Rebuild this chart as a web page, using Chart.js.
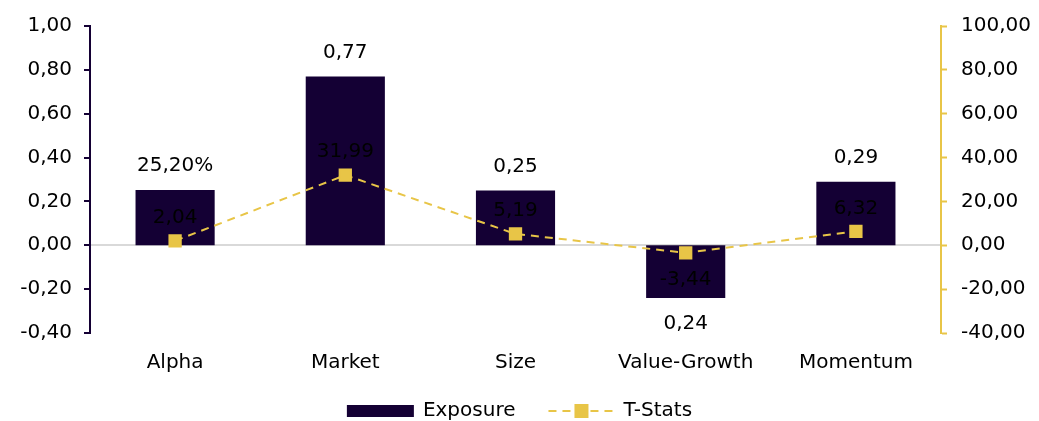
<!DOCTYPE html>
<html>
<head>
<meta charset="utf-8">
<script src="https://cdn.jsdelivr.net/npm/chart.js@4"></script>
<style>
  html, body { margin: 0; padding: 0; background: #ffffff; }
  #wrap { width: 1039px; height: 421px; }
</style>
</head>
<body>
<div id="wrap"><canvas id="c" width="1039" height="421"></canvas></div>
<script>
const categories = ['Alpha', 'Market', 'Size', 'Value-Growth', 'Momentum'];
const exposure = [0.252, 0.77, 0.25, -0.24, 0.29];
const exposureLabels = ['25,20%', '0,77', '0,25', '0,24', '0,29'];
const tStats = [2.04, 31.99, 5.19, -3.44, 6.32];
const tStatLabels = ['2,04', '31,99', '5,19', '-3,44', '6,32'];

const NAVY = '#140034';
const GOLD = '#E8C547';
const FONT = 'Verdana, "DejaVu Sans", sans-serif';
const FS = 20;

const fmt = (v) => {
  let r = Math.round(v * 100) / 100;
  if (Math.abs(r) < 1e-9) r = 0;
  return r.toFixed(2).replace('.', ',');
};

const labelPlugin = {
  id: 'valueLabels',
  afterDatasetsDraw(chart) {
    const ctx = chart.ctx;
    ctx.save();
    ctx.font = FS + 'px ' + FONT;
    ctx.fillStyle = '#000000';
    ctx.textAlign = 'center';
    ctx.textBaseline = 'middle';
    const barMeta = chart.getDatasetMeta(0);
    barMeta.data.forEach((el, i) => {
      const v = exposure[i];
      const y = v >= 0 ? el.y - 24 : el.y + 26;
      ctx.fillText(exposureLabels[i], el.x, y);
    });
    const lineMeta = chart.getDatasetMeta(1);
    lineMeta.data.forEach((el, i) => {
      const y = tStats[i] >= 0 ? el.y - 23 : el.y + 27;
      ctx.fillText(tStatLabels[i], el.x, y);
    });
    ctx.restore();
  }
};

const legendPlugin = {
  id: 'customLegend',
  afterDraw(chart) {
    const ctx = chart.ctx;
    ctx.save();
    ctx.font = FS + 'px ' + FONT;
    const t1 = 'Exposure', t2 = 'T-Stats';
    const w1 = ctx.measureText(t1).width, w2 = ctx.measureText(t2).width;
    const boxW = 67, gap = 9, between = 33, lineW = 66;
    const total = boxW + gap + w1 + between + lineW + gap + w2;
    let x = (chart.width - total) / 2;
    const cy = 411;
    ctx.fillStyle = NAVY;
    ctx.fillRect(x, cy - 6, boxW, 12);
    x += boxW + gap;
    ctx.fillStyle = '#000000';
    ctx.textBaseline = 'middle';
    ctx.textAlign = 'left';
    ctx.fillText(t1, x, cy);
    x += w1 + between;
    ctx.strokeStyle = GOLD;
    ctx.lineWidth = 2;
    ctx.setLineDash([8, 6]);
    ctx.beginPath();
    ctx.moveTo(x, cy);
    ctx.lineTo(x + lineW, cy);
    ctx.stroke();
    ctx.setLineDash([]);
    ctx.fillStyle = GOLD;
    ctx.fillRect(x + lineW / 2 - 7, cy - 7, 14, 14);
    x += lineW + gap;
    ctx.fillStyle = '#000000';
    ctx.fillText(t2, x, cy);
    ctx.restore();
  }
};

new Chart(document.getElementById('c'), {
  data: {
    labels: categories,
    datasets: [
      {
        type: 'bar',
        label: 'Exposure',
        data: exposure,
        backgroundColor: NAVY,
        borderWidth: 0,
        yAxisID: 'y',
        categoryPercentage: 0.93,
        barPercentage: 0.5,
        order: 2
      },
      {
        type: 'line',
        label: 'T-Stats',
        data: tStats,
        borderColor: GOLD,
        backgroundColor: GOLD,
        borderWidth: 2,
        borderDash: [8, 6],
        pointStyle: 'rect',
        pointRadius: 8,
        pointHoverRadius: 8,
        pointBackgroundColor: GOLD,
        pointBorderColor: GOLD,
        tension: 0,
        fill: false,
        yAxisID: 'y1',
        order: 1
      }
    ]
  },
  options: {
    responsive: false,
    animation: false,
    devicePixelRatio: 1,
    layout: { padding: { top: 24, bottom: 38, left: 0, right: 0 } },
    plugins: {
      legend: { display: false },
      tooltip: { enabled: false }
    },
    scales: {
      x: {
        grid: { display: false, drawTicks: false },
        border: { display: false },
        ticks: { color: '#000000', font: { family: FONT, size: FS }, padding: 18 },
        afterFit(scale) { scale.height = 50; }
      },
      y: {
        position: 'left',
        min: -0.4,
        max: 1.0,
        ticks: {
          stepSize: 0.2,
          color: '#000000',
          font: { family: FONT, size: FS },
          padding: 12,
          callback: (v) => fmt(v)
        },
        grid: {
          drawOnChartArea: true,
          color: (c) => (c.tick && Math.abs(c.tick.value) < 1e-9 ? '#D9D9D9' : 'rgba(0,0,0,0)'),
          lineWidth: 2,
          tickColor: NAVY,
          tickLength: 6,
          tickWidth: 2
        },
        border: { display: true, color: NAVY, width: 2 },
        afterFit(scale) { scale.width = 90; }
      },
      y1: {
        position: 'right',
        min: -40,
        max: 100,
        ticks: {
          stepSize: 20,
          color: '#000000',
          font: { family: FONT, size: FS },
          padding: 14,
          callback: (v) => fmt(v)
        },
        grid: {
          drawOnChartArea: false,
          tickColor: GOLD,
          tickLength: 6,
          tickWidth: 2
        },
        border: { display: true, color: GOLD, width: 2 },
        afterFit(scale) { scale.width = 98; }
      }
    }
  },
  plugins: [labelPlugin, legendPlugin]
});
</script>
</body>
</html>
